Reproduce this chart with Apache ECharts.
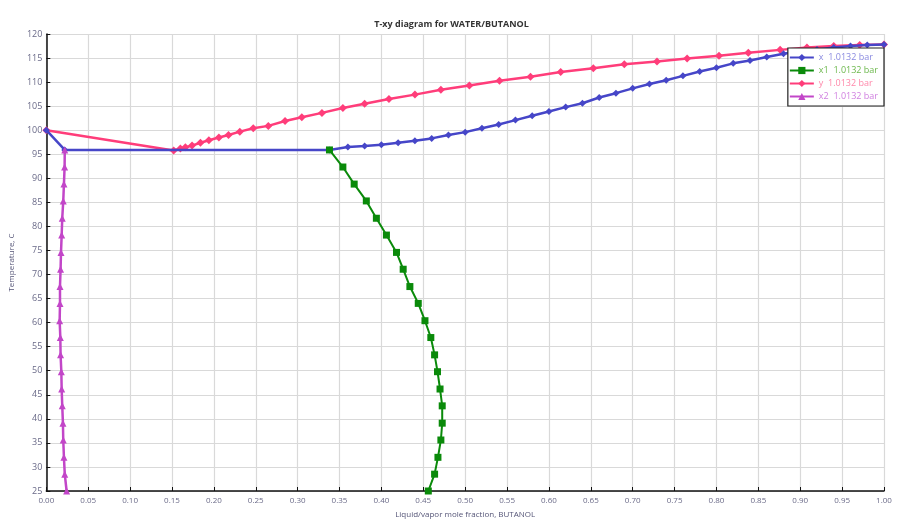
<!DOCTYPE html>
<html>
<head>
<meta charset="utf-8">
<script src="https://cdn.jsdelivr.net/npm/echarts@6/dist/echarts.min.js"></script>
<style>html,body{margin:0;padding:0;background:#fff}#c{width:903px;height:524px}</style>
</head>
<body>
<div id="c"></div>
<script>
// X ticks / Y ticks
const xTicks = [0.00,0.05,0.10,0.15,0.20,0.25,0.30,0.35,0.40,0.45,0.50,0.55,0.60,0.65,0.70,0.75,0.80,0.85,0.90,0.95,1.00];
const yTicks = [25,30,35,40,45,50,55,60,65,70,75,80,85,90,95,100,105,110,115,120];

// x (liquid, BUTANOL) curve
const xFrac = [0,0.022,0.338,0.36,0.38,0.40,0.42,0.44,0.46,0.48,0.50,0.52,0.54,0.56,0.58,0.60,0.62,0.64,0.66,0.68,0.70,0.72,0.74,0.76,0.78,0.80,0.82,0.84,0.86,0.88,0.90,0.92,0.94,0.96,0.98,1.00];
const xTemp = [100,95.9,95.9,96.5,96.7,97.0,97.4,97.8,98.3,99.0,99.6,100.4,101.2,102.1,103.0,103.9,104.8,105.6,106.8,107.7,108.7,109.6,110.4,111.3,112.2,113.0,113.9,114.5,115.2,115.9,116.4,116.8,117.2,117.5,117.7,117.8];

// x1 (organic liquid phase)
const x1Frac = [0.338,0.354,0.3675,0.382,0.394,0.406,0.418,0.426,0.434,0.444,0.452,0.459,0.4635,0.467,0.470,0.4726,0.4726,0.471,0.4675,0.4635,0.456];
const llTemp = [95.9,92.35,88.8,85.3,81.7,78.2,74.6,71.1,67.5,64.0,60.4,56.9,53.3,49.8,46.2,42.7,39.1,35.6,32.0,28.5,25.0];

// y (vapor)
const yFrac = [0,0.152,0.160,0.166,0.174,0.184,0.194,0.206,0.2175,0.231,0.247,0.265,0.285,0.305,0.329,0.354,0.380,0.409,0.440,0.471,0.505,0.541,0.578,0.614,0.653,0.690,0.729,0.765,0.803,0.838,0.876,0.908,0.940,0.971,1.00];
const yTemp = [100,95.8,96.2,96.45,96.8,97.4,97.9,98.5,99.0,99.7,100.4,100.9,101.9,102.7,103.6,104.6,105.5,106.5,107.4,108.4,109.3,110.3,111.1,112.1,112.9,113.7,114.3,114.9,115.5,116.1,116.7,117.2,117.5,117.7,117.8];

// x2 (aqueous liquid phase)
const x2Frac = [0.022,0.0218,0.021,0.0202,0.019,0.0183,0.0175,0.017,0.0163,0.0163,0.0159,0.0167,0.017,0.0179,0.0183,0.019,0.0198,0.0202,0.021,0.022,0.0242];

const seriesNames = ['x  1.0132 bar','x1  1.0132 bar','y  1.0132 bar','x2  1.0132 bar'];

function pairs(a,b){return a.map((v,i)=>[v,b[i]]);}

const chart = echarts.init(document.getElementById('c'), null, {renderer:'canvas'});
const fam = "'Open Sans', 'Noto Sans', sans-serif";
const option = {
  animation:false,
  backgroundColor:'#ffffff',
  title:{
    text:'T-xy diagram for WATER/BUTANOL',
    left:'center', top:15,
    textStyle:{fontSize:9, fontWeight:'bold', color:'#333', fontFamily:fam}
  },
  grid:{left:43, right:19, top:34, bottom:33},
  legend:{
    orient:'vertical', right:19, top:48,
    backgroundColor:'#ffffff', borderColor:'#222', borderWidth:1.2, borderRadius:0,
    padding:[5,6,5,1], itemGap:4, itemWidth:24, itemHeight:9,
    textStyle:{fontSize:9, fontFamily:fam},
    data:[
      {name:seriesNames[0], textStyle:{color:'#8a8ae0'}},
      {name:seriesNames[1], textStyle:{color:'#6cb84c'}},
      {name:seriesNames[2], textStyle:{color:'#ff88aa'}},
      {name:seriesNames[3], textStyle:{color:'#d080e0'}}
    ]
  },
  xAxis:{
    type:'value', min:0, max:1, interval:0.05,
    name:'Liquid/vapor mole fraction, BUTANOL', nameLocation:'middle', nameGap:20,
    nameTextStyle:{fontSize:8, color:'#555577', fontFamily:fam},
    axisLine:{show:true, onZero:false, lineStyle:{color:'#111', width:1.5}},
    axisTick:{show:true, inside:true, length:4, lineStyle:{color:'#111'}},
    axisLabel:{fontSize:8, color:'#6a6a88', margin:6, fontFamily:fam, formatter:v=>v.toFixed(2)},
    splitLine:{show:true, lineStyle:{color:'#d9d9d9', width:1.2}}
  },
  yAxis:{
    type:'value', min:25, max:120, interval:5,
    name:'Temperature, C', nameLocation:'middle', nameGap:24, nameRotate:90,
    nameTextStyle:{fontSize:8, color:'#555577', fontFamily:fam},
    axisLine:{show:true, onZero:false, lineStyle:{color:'#111', width:1.5}},
    axisTick:{show:true, inside:true, length:4, lineStyle:{color:'#111'}},
    axisLabel:{fontSize:9, color:'#6a6a88', margin:4, fontFamily:fam},
    splitLine:{show:true, lineStyle:{color:'#d9d9d9', width:1.2}}
  },
  series:[
    {name:seriesNames[0], type:'line', data:pairs(xFrac,xTemp), symbol:'diamond', symbolSize:7,
     itemStyle:{color:'#4646c8'}, lineStyle:{width:2.5, color:'#4646c8'}, z:3},
    {name:seriesNames[1], type:'line', data:pairs(x1Frac,llTemp), symbol:'rect', symbolSize:7,
     itemStyle:{color:'#0a8a0a'}, lineStyle:{width:2, color:'#0a8a0a'}, z:4},
    {name:seriesNames[2], type:'line', data:pairs(yFrac,yTemp), symbol:'diamond', symbolSize:8,
     itemStyle:{color:'#ff3d7a'}, lineStyle:{width:2.5, color:'#ff3d7a'}, z:2},
    {name:seriesNames[3], type:'line', data:pairs(x2Frac,llTemp), symbol:'triangle', symbolSize:7,
     itemStyle:{color:'#c246c8'}, lineStyle:{width:2.5, color:'#c246c8'}, z:4}
  ]
};
chart.setOption(option);
</script>
</body>
</html>
